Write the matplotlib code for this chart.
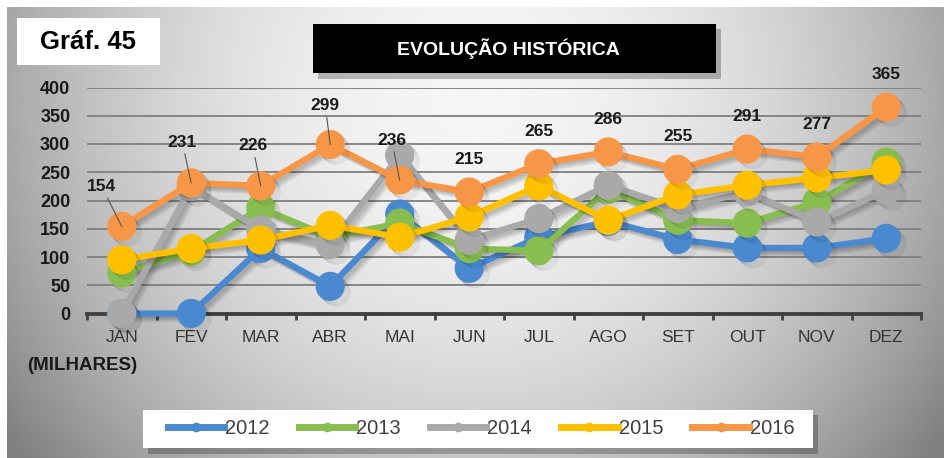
import numpy as np
import matplotlib
matplotlib.use('Agg')
import matplotlib.pyplot as plt
import matplotlib.patches as mpatches
import matplotlib.patheffects as pe

plt.rcParams['font.family'] = ['Liberation Sans', 'DejaVu Sans']

months = ['JAN', 'FEV', 'MAR', 'ABR', 'MAI', 'JUN', 'JUL', 'AGO', 'SET', 'OUT', 'NOV', 'DEZ']
v2012 = [0, 0, 115, 48, 176, 80, 135, 163, 131, 116, 116, 133]
v2013 = [72, 110, 187, 135, 160, 115, 111, 220, 165, 160, 197, 268]
v2014 = [0, 225, 148, 122, 280, 130, 168, 227, 186, 215, 162, 218]
v2015 = [95, 115, 130, 156, 135, 171, 226, 165, 210, 227, 240, 254]
v2016 = [154, 231, 226, 299, 236, 215, 265, 286, 255, 291, 277, 365]
years = ['2012', '2013', '2014', '2015', '2016']
colors = ['#4a89d0', '#88bd4f', '#a9a9a9', '#ffc000', '#f79646']
yticks = [0, 50, 100, 150, 200, 250, 300, 350, 400]

W, H = 944, 458
def fx(x):
    return x / W
def fy(y):
    return 1 - y / H

def box(x0, y0, x1, y1, **kw):
    # rectangle given in pixel coords (top-left origin)
    fig.patches.append(mpatches.Rectangle((fx(x0), fy(y1)), fx(x1) - fx(x0), fy(y0) - fy(y1),
                                          transform=fig.transFigure, edgecolor='none', **kw))

fig = plt.figure(figsize=(9.44, 4.58), dpi=100)

# gray gradient background
bg = fig.add_axes([fx(7), 0, 1 - fx(7), 1 - 7 / H], zorder=-10)
gx, gy = np.meshgrid(np.linspace(0, 1, 400), np.linspace(0, 1, 200))
u = (gx - 0.5) / 0.5
v = (gy - 0.2) / 0.8
val = 0.96 - 0.30 * u ** 2 - 0.18 * v ** 2
val = np.clip(val, 0.5, 1)
bg.imshow(val, cmap='gray', vmin=0, vmax=1, aspect='auto', extent=[0, 1, 1, 0])
bg.set_axis_off()

ax = fig.add_axes([fx(87), fy(313.5), fx(921) - fx(87), fy(87.5) - fy(313.5)])
ax.patch.set_alpha(0)
x = np.arange(len(months))
series = [v2012, v2013, v2014, v2015, v2016]
# soft drop shadow: a few offset copies with low alpha
shadow = [pe.SimpleLineShadow(offset=(k, -k), shadow_color='black', alpha=0.07) for k in (1, 2, 3, 4)]
for i, (vals, c, lab) in enumerate(zip(series, colors, years)):
    ax.plot(x, vals, color=c, lw=4.5, marker='o', ms=20, mec=c, label=lab,
            clip_on=False, zorder=3 + i, path_effects=shadow + [pe.Normal()])

# data labels for 2016
leaders = {0: (-14.4, 28.8), 1: (-6.5, 29.5), 2: (-5.8, 28.8), 3: (-3.6, 28), 4: (-5.8, 28.8)}
for i, val16 in enumerate(v2016):
    if i in leaders:
        ax.annotate(str(val16), (x[i], val16), xytext=leaders[i], textcoords='offset points',
                    ha='center', va='center', fontsize=12.5, fontweight='bold', color='#1a1a1a',
                    arrowprops=dict(arrowstyle='-', color='#555555', lw=0.8, shrinkA=1, shrinkB=0),
                    zorder=20, annotation_clip=False)
    else:
        ax.annotate(str(val16), (x[i], val16), xytext=(0, 23.5), textcoords='offset points',
                    ha='center', va='center', fontsize=12.5, fontweight='bold', color='#1a1a1a',
                    zorder=20, annotation_clip=False)

ax.set_xlim(-0.5, len(months) - 0.5)
ax.set_ylim(0, 400)
ax.set_yticks(yticks)
ax.set_yticklabels([str(t) for t in yticks], fontsize=13, fontweight='bold', color='#1a1a1a')
ax.set_xticks(x)
ax.set_xticklabels(months, fontsize=12.5, color='#333333')
ax.set_xticks(np.arange(-0.5, len(months), 1), minor=True)
ax.tick_params(axis='x', which='major', length=0, pad=12)
ax.tick_params(axis='x', which='minor', length=4, width=2, color='#404040', direction='out')
ax.tick_params(axis='y', length=0, pad=12)
ax.grid(axis='y', color='#7f7f7f', lw=1.3, zorder=0)
ax.set_axisbelow(True)
for s in ['left', 'right', 'top']:
    ax.spines[s].set_visible(False)
ax.spines['bottom'].set_color('#404040')
ax.spines['bottom'].set_linewidth(2.8)
ax.spines['bottom'].set_zorder(2)

fig.text(fx(27), fy(365), '(MILHARES)', fontsize=13.5, fontweight='bold', color='#1a1a1a',
         ha='left', va='center')

# "Gráf. 45" box
box(17, 18, 160, 65, facecolor='white')
fig.text(fx(88), fy(42), 'Gráf. 45', fontsize=18.5, fontweight='bold', color='black',
         ha='center', va='center')

# title box with shadow
box(318, 29, 721, 79, facecolor='black', alpha=0.25)
box(313, 24, 716, 73, facecolor='black')
fig.text(fx(508), fy(48.5), 'EVOLUÇÃO HISTÓRICA', fontsize=14, fontweight='bold', color='white',
         ha='center', va='center')

# legend box with shadow, legend entries on top
box(148, 415, 818, 454, facecolor='black', alpha=0.25)
box(143, 410, 813, 448, facecolor='white')
handles = [plt.Line2D([], [], color=c, lw=5, marker='o', ms=6) for c in colors]
leg = fig.legend(handles, years, loc='center', bbox_to_anchor=(fx(481), fy(429)), ncol=5,
                 fontsize=14.5, frameon=False, handlelength=2.8,
                 handletextpad=0.05, columnspacing=1.45, labelcolor='#404040')

fig.savefig('out.png', dpi=100)
